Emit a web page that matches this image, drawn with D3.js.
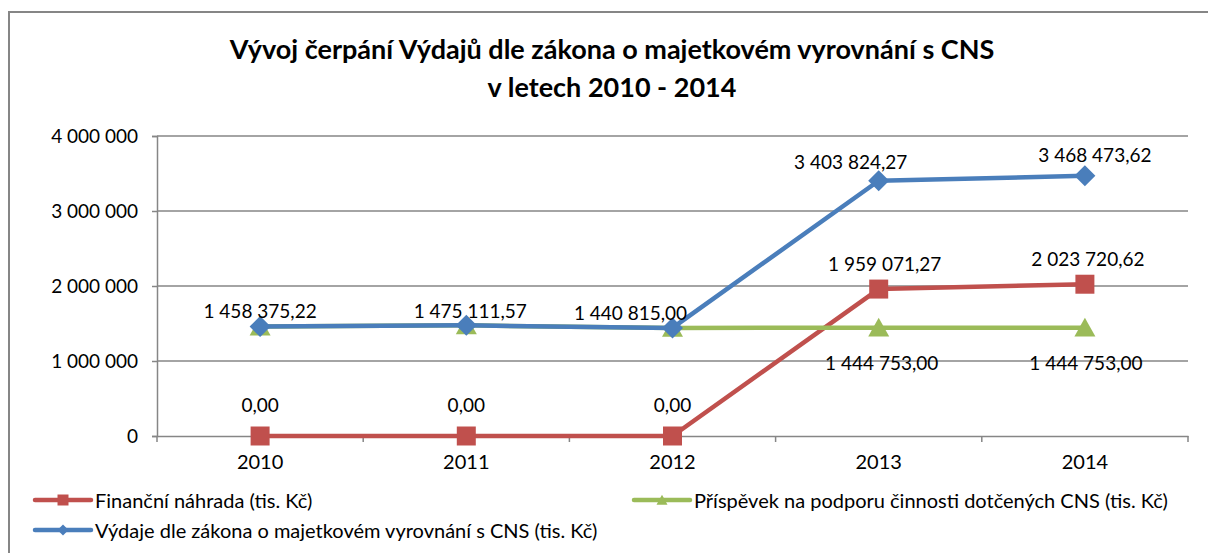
<!DOCTYPE html>
<html>
<head>
<meta charset="utf-8">
<script src="https://cdn.jsdelivr.net/npm/d3@7.9.0/dist/d3.min.js"></script>
<style>
  html, body { margin: 0; padding: 0; background: #fff; }
  svg text { font-family: Lato, "Open Sans", sans-serif; fill: #000; }
</style>
</head>
<body>
<svg id="chart" width="1208" height="553"></svg>
<script>
// data
const years = ['2010', '2011', '2012', '2013', '2014'];
const financniNahrada = [0, 0, 0, 1959071.27, 2023720.62];
const prispevek = [1458375.22, 1475111.57, 1440815.00, 1444753.00, 1444753.00];
const vydaje = [1458375.22, 1475111.57, 1440815.00, 3403824.27, 3468473.62];
const yTicks = [0, 1000000, 2000000, 3000000, 4000000];
const titleLines = ['Vývoj čerpání Výdajů dle zákona o majetkovém vyrovnání s CNS', 'v letech 2010 - 2014'];

// which data labels are visible
const prispevekLabelShown = [false, false, false, true, true];

// label nudges (dx, dy) relative to the point
const redLabelOffsets = [[0, -32], [0, -32], [0, -32], [6, -26], [3, -26]];
const greenLabelOffsets = [[0, 35], [0, 35], [0, 35], [3, 35], [1, 35]];
const blueLabelOffsets = [[0, -16], [4, -15], [-42, -15], [-28, -19], [10, -21]];

const svg = d3.select('#chart');
const W = 1208, H = 553;
const margin = { left: 157, right: 1188, top: 136, bottom: 436 };
const gridColor = '#868686';

const czech = d3.formatLocale({ decimal: ',', thousands: ' ', grouping: [3], currency: ['', ''] });
const fmtLabel = czech.format(',.2f');
const fmtTick = czech.format(',.0f');

// outer chart border
svg.append('rect')
  .attr('x', 9).attr('y', 12)
  .attr('width', W + 10).attr('height', H + 10)
  .attr('fill', 'none').attr('stroke', gridColor).attr('stroke-width', 2);

// title
svg.append('text')
  .attr('x', 612).attr('y', 59)
  .attr('text-anchor', 'middle')
  .style('font-size', '27px').style('font-weight', 'bold')
  .selectAll('tspan')
  .data(titleLines)
  .join('tspan')
  .attr('x', 612)
  .attr('dy', (d, i) => i === 0 ? 0 : 38)
  .text((d) => d);

const x = d3.scaleBand().domain(years).range([margin.left, margin.right]);
const y = d3.scaleLinear().domain([0, 4000000]).range([margin.bottom, margin.top]);
const cx = (i) => x(years[i]) + x.bandwidth() / 2;

// gridlines
svg.append('g')
  .selectAll('line')
  .data(yTicks.slice(1))
  .join('line')
  .attr('x1', margin.left).attr('x2', margin.right)
  .attr('y1', (d) => y(d)).attr('y2', (d) => y(d))
  .attr('stroke', gridColor).attr('stroke-width', 1.5);

// y axis
const yAxis = svg.append('g')
  .attr('transform', `translate(${margin.left},0)`)
  .call(d3.axisLeft(y).tickValues(yTicks).tickSize(5).tickPadding(14).tickFormat(fmtTick));
yAxis.select('.domain').attr('stroke', gridColor).attr('stroke-width', 1.5);
yAxis.selectAll('.tick line').attr('stroke', gridColor).attr('stroke-width', 1.5);
yAxis.selectAll('text').style('font-size', '19px').attr('fill', '#000');

// x axis
const xAxis = svg.append('g')
  .attr('transform', `translate(0,${margin.bottom})`)
  .call(d3.axisBottom(x).tickSize(0).tickPadding(19));
xAxis.select('.domain').attr('stroke', gridColor).attr('stroke-width', 1.5);
xAxis.selectAll('text').style('font-size', '20px').attr('fill', '#000');
// tick marks sit on the category boundaries
xAxis.selectAll('.bound')
  .data(years.concat(['end']))
  .join('line')
  .attr('class', 'bound')
  .attr('x1', (d, i) => margin.left + i * x.bandwidth())
  .attr('x2', (d, i) => margin.left + i * x.bandwidth())
  .attr('y1', 0).attr('y2', 6)
  .attr('stroke', gridColor).attr('stroke-width', 1.5);

const series = [
  { name: 'Finanční náhrada (tis. Kč)', values: financniNahrada, color: '#C0504D', marker: 'square', offsets: redLabelOffsets, shown: years.map(() => true) },
  { name: 'Příspěvek na podporu činnosti dotčených CNS (tis. Kč)', values: prispevek, color: '#9BBB59', marker: 'triangle', offsets: greenLabelOffsets, shown: prispevekLabelShown },
  { name: 'Výdaje dle zákona o majetkovém vyrovnání s CNS (tis. Kč)', values: vydaje, color: '#4A7EBB', marker: 'diamond', offsets: blueLabelOffsets, shown: years.map(() => true) }
];

function markerPath(type, size) {
  const h = size / 2;
  if (type === 'square') return `M${-h},${-h}H${h}V${h}H${-h}Z`;
  if (type === 'diamond') return `M0,${-h}L${h},0L0,${h}L${-h},0Z`;
  return `M0,${-h * 0.95}L${h},${h * 0.85}L${-h},${h * 0.85}Z`;
}

const line = d3.line().x((d, i) => cx(i)).y((d) => y(d));

series.forEach((s) => {
  const g = svg.append('g');
  g.append('path')
    .attr('d', line(s.values))
    .attr('fill', 'none')
    .attr('stroke', s.color)
    .attr('stroke-width', 4.5)
    .attr('stroke-linejoin', 'round');
  g.selectAll('path.mk')
    .data(s.values)
    .join('path')
    .attr('class', 'mk')
    .attr('transform', (d, i) => `translate(${cx(i)},${y(d)})`)
    .attr('d', markerPath(s.marker, s.marker === 'square' ? 19 : 21))
    .attr('fill', s.color);
});

// data labels on top
series.forEach((s) => {
  svg.append('g')
    .selectAll('text')
    .data(s.values.map((v, i) => ({ v, i })).filter((d) => s.shown[d.i]))
    .join('text')
    .attr('x', (d) => cx(d.i) + s.offsets[d.i][0])
    .attr('y', (d) => y(d.v) + s.offsets[d.i][1])
    .attr('text-anchor', 'middle')
    .attr('dominant-baseline', 'central')
    .style('font-size', '19px')
    .text((d) => fmtLabel(d.v));
});

// legend
const legendPos = [[35, 500], [634, 500], [35, 530]];
series.forEach((s, i) => {
  const [lx, ly] = legendPos[i];
  const g = svg.append('g').attr('transform', `translate(${lx},${ly})`);
  g.append('line')
    .attr('x1', 0).attr('x2', 56)
    .attr('stroke', s.color).attr('stroke-width', 4.5)
    .attr('stroke-linecap', 'round');
  g.append('path')
    .attr('transform', 'translate(28,0)')
    .attr('d', markerPath(s.marker, 11))
    .attr('fill', s.color);
  g.append('text')
    .attr('x', 60).attr('y', 0)
    .attr('dominant-baseline', 'central')
    .style('font-size', '20px')
    .text(s.name);
});
</script>
</body>
</html>
